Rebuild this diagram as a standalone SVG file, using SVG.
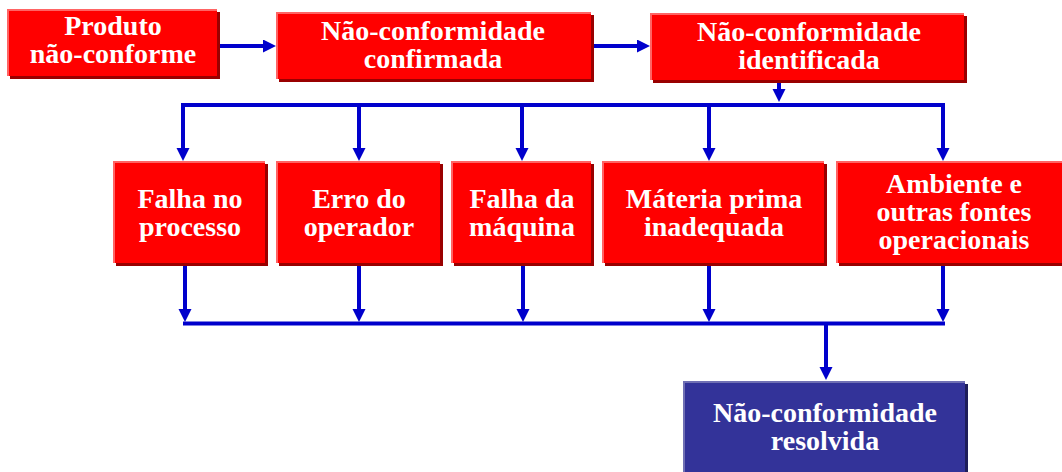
<svg xmlns="http://www.w3.org/2000/svg" width="1062" height="472" viewBox="0 0 1062 472">
<style>
.sh{fill:#990000}
.bx{fill:#FF0000}
.hl{fill:none;stroke:#FF6464;stroke-width:2}
.shb{fill:#1E1E5A}
.bxb{fill:#333399}
.hlb{fill:none;stroke:#7070B4;stroke-width:2}
.t{font-family:"Liberation Serif","Times New Roman",serif;font-weight:bold;font-size:28px;fill:#FFFFFF;text-anchor:middle}
.c{fill:none;stroke:#0000CC;stroke-width:4}
.a{fill:none;stroke:#0000CC;stroke-width:4;marker-end:url(#ah)}
</style>
<defs>
<marker id="ah" markerUnits="userSpaceOnUse" markerWidth="14" markerHeight="14" refX="7" refY="6.5" orient="auto">
<path d="M0,0 L13,6.5 L0,13 z" fill="#0000CC"/>
</marker>
</defs>
<rect width="1062" height="472" fill="#FFFFFF"/>
<g id="connectors">
<path class="a" d="M220,46 H270"/>
<path class="a" d="M594,46 H644"/>
<path class="a" d="M779,82 V96"/>
<path class="c" d="M181,105 H945"/>
<path class="a" d="M183,105 V155"/>
<path class="a" d="M359,105 V155"/>
<path class="a" d="M522,105 V155"/>
<path class="a" d="M709,105 V155"/>
<path class="a" d="M943,103 V155"/>
<path class="a" d="M185,266 V316"/>
<path class="a" d="M359,266 V316"/>
<path class="a" d="M523,266 V316"/>
<path class="a" d="M709,266 V316"/>
<path class="a" d="M943,266 V316"/>
<path class="c" d="M183,323.5 H945"/>
<path class="a" d="M826,323 V374"/>
</g>
<g id="n1">
<rect class="sh" x="10" y="12" width="210" height="67"/>
<rect class="bx" x="7" y="9" width="210" height="67"/>
<path class="hl" d="M8,76 V10 H217"/>
<text class="t" x="113" y="35">Produto</text>
<text class="t" x="113" y="63">não-conforme</text>
</g>
<g id="n2">
<rect class="sh" x="279" y="15" width="315" height="67"/>
<rect class="bx" x="276" y="12" width="315" height="67"/>
<path class="hl" d="M277,79 V13 H591"/>
<text class="t" x="433" y="40">Não-conformidade</text>
<text class="t" x="433" y="68">confirmada</text>
</g>
<g id="n3">
<rect class="sh" x="653" y="16" width="314" height="67"/>
<rect class="bx" x="650" y="13" width="314" height="67"/>
<path class="hl" d="M651,80 V14 H964"/>
<text class="t" x="809" y="41">Não-conformidade</text>
<text class="t" x="809" y="69">identificada</text>
</g>
<g id="m1">
<rect class="sh" x="116" y="164" width="152" height="102"/>
<rect class="bx" x="113" y="161" width="152" height="102"/>
<path class="hl" d="M114,263 V162 H265"/>
<text class="t" x="190" y="208">Falha no</text>
<text class="t" x="190" y="236">processo</text>
</g>
<g id="m2">
<rect class="sh" x="279" y="164" width="164" height="102"/>
<rect class="bx" x="276" y="161" width="164" height="102"/>
<path class="hl" d="M277,263 V162 H440"/>
<text class="t" x="359" y="208">Erro do</text>
<text class="t" x="359" y="236">operador</text>
</g>
<g id="m3">
<rect class="sh" x="454" y="164" width="140" height="102"/>
<rect class="bx" x="451" y="161" width="140" height="102"/>
<path class="hl" d="M452,263 V162 H591"/>
<text class="t" x="522" y="208">Falha da</text>
<text class="t" x="522" y="236">máquina</text>
</g>
<g id="m4">
<rect class="sh" x="605" y="164" width="222" height="102"/>
<rect class="bx" x="602" y="161" width="222" height="102"/>
<path class="hl" d="M603,263 V162 H824"/>
<text class="t" x="714" y="208">Máteria prima</text>
<text class="t" x="714" y="236">inadequada</text>
</g>
<g id="m5">
<rect class="sh" x="839" y="164" width="236" height="102"/>
<rect class="bx" x="836" y="161" width="236" height="102"/>
<path class="hl" d="M837,263 V162 H1072"/>
<text class="t" x="954" y="193">Ambiente e</text>
<text class="t" x="954" y="221">outras fontes</text>
<text class="t" x="954" y="249">operacionais</text>
</g>
<g id="r1">
<rect class="shb" x="686" y="384" width="282" height="100"/>
<rect class="bxb" x="683" y="381" width="282" height="100"/>
<path class="hlb" d="M684,481 V382 H965"/>
<text class="t" x="825" y="422">Não-conformidade</text>
<text class="t" x="825" y="450">resolvida</text>
</g>
</svg>
